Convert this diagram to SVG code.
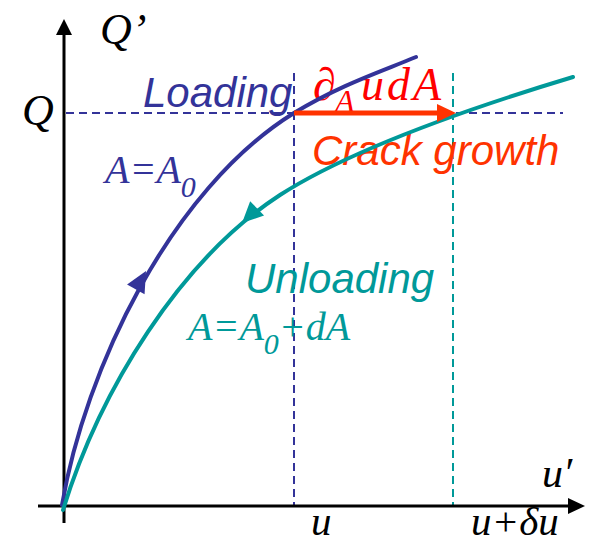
<svg xmlns="http://www.w3.org/2000/svg" width="589" height="545" viewBox="0 0 589 545">
<style>
.math{font-family:"Liberation Serif","Times New Roman",serif;font-style:italic;}
.sans{font-family:"Liberation Sans",Arial,sans-serif;font-style:italic;}
.dash{fill:none;stroke-width:2;stroke-dasharray:8 5;}
.curve{fill:none;stroke-width:4;stroke-linecap:round;}
</style>
<rect width="589" height="545" fill="#ffffff"/>
<g id="guides">
<line class="dash" x1="66" y1="113" x2="563" y2="113" stroke="#333399"/>
<line class="dash" x1="294" y1="73" x2="294" y2="506" stroke="#333399"/>
<line class="dash" x1="453" y1="73" x2="453" y2="506" stroke="#009999"/>
</g>
<g id="axes">
<line x1="64" y1="523" x2="64" y2="32" stroke="#000" stroke-width="3"/>
<polygon points="64,19 56,35 72,35" fill="#000"/>
<line x1="38" y1="506" x2="570" y2="506" stroke="#000" stroke-width="3"/>
<polygon points="585,506 568,498 568,514" fill="#000"/>
</g>
<g id="labels-axes" class="math" font-size="44" fill="#000">
<text x="100" y="44">Q’</text>
<text x="22" y="125">Q</text>
<text x="542" y="487" font-size="42">u′</text>
<text x="311" y="535" font-size="41">u</text>
<text x="471" y="535" font-size="41">u+δu</text>
</g>
<g id="crack-label">
<text class="math" font-size="46" fill="#ff0000" y="100"><tspan x="313">∂</tspan><tspan x="335" y="112" font-size="32">A</tspan><tspan x="361" y="100" letter-spacing="3">udA</tspan></text>
<text class="sans" font-size="42" fill="#ff3300" x="312" y="165">Crack growth</text>
</g>
<g id="connectors">
<path id="loading-curve" class="curve" stroke="#333399" d="M62,505 C85,370 170,190 294,113 C340,85 380,72 416,57"/>
<polygon fill="#333399" points="0,0 -21,-10 -21,10" transform="translate(146,271) rotate(-61)"/>
<path id="unloading-curve" class="curve" stroke="#009999" d="M63,510 C100,390 180,260 280,195 C350,150 470,108 573,77"/>
<polygon fill="#009999" points="0,0 -21,-10 -21,10" transform="translate(242,223) rotate(136)"/>
<line x1="294" y1="113" x2="440" y2="113" stroke="#ff3300" stroke-width="5"/>
<polygon fill="#ff3300" points="456,113 437,104 437,122"/>
</g>
<g id="loading">
<text class="sans" font-size="42" fill="#333399" x="143" y="107">Loading</text>
<text class="math" font-size="40" fill="#333399" y="183"><tspan x="105">A=A</tspan><tspan font-size="30" y="197">0</tspan></text>
</g>
<g id="unloading">
<text class="sans" font-size="42" fill="#009999" x="245" y="293">Unloading</text>
<text class="math" font-size="40" fill="#009999" y="340"><tspan x="188">A=A</tspan><tspan font-size="30" y="354">0</tspan><tspan y="340">+dA</tspan></text>
</g>
</svg>
